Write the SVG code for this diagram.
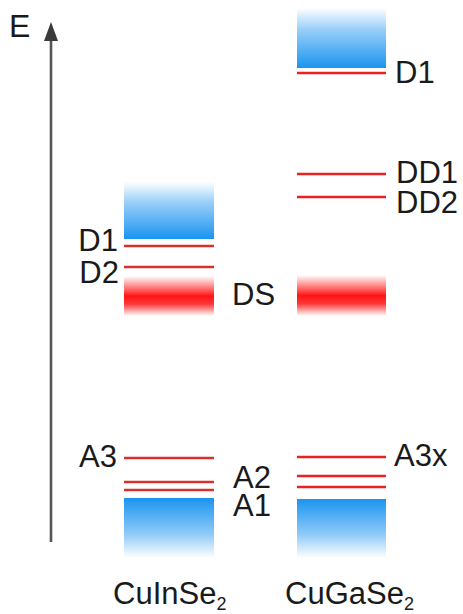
<svg xmlns="http://www.w3.org/2000/svg" width="463" height="614" viewBox="0 0 463 614">
<defs>
<linearGradient id="cbGrad" x1="0" y1="0" x2="0" y2="1">
<stop offset="0" stop-color="#1e96f0" stop-opacity="0"/>
<stop offset="0.35" stop-color="#1e96f0" stop-opacity="0.45"/>
<stop offset="1" stop-color="#1a94f0" stop-opacity="1"/>
</linearGradient>
<linearGradient id="vbGrad" x1="0" y1="0" x2="0" y2="1">
<stop offset="0" stop-color="#1a94f0" stop-opacity="1"/>
<stop offset="0.6" stop-color="#1e96f0" stop-opacity="0.5"/>
<stop offset="1" stop-color="#1e96f0" stop-opacity="0"/>
</linearGradient>
<linearGradient id="dsGrad" x1="0" y1="0" x2="0" y2="1">
<stop offset="0" stop-color="#ff1a1a" stop-opacity="0"/>
<stop offset="0.35" stop-color="#ff1a1a" stop-opacity="0.7"/>
<stop offset="0.5" stop-color="#ff1414" stop-opacity="1"/>
<stop offset="0.7" stop-color="#ff1414" stop-opacity="0.85"/>
<stop offset="1" stop-color="#ff1a1a" stop-opacity="0"/>
</linearGradient>
</defs>
<style>
text { font-family: "Liberation Sans", Arial, sans-serif; font-size: 31px; fill: #1a1a1a; }
.lvA { stroke: #d8302c; stroke-width: 2.6; }
.lvB { stroke: #e62222; stroke-width: 2.6; }
.sub { font-size: 18px; }
</style>
<rect width="463" height="614" fill="#ffffff"/>

<g id="connectors">
<line x1="51" y1="542" x2="51" y2="40" stroke="#555555" stroke-width="2.6"/>
<path d="M44,41 L51,22 L58,41 Z" fill="#3a3a3a"/>
</g>

<g id="axis-label">
<text x="9" y="37" style="font-size:32px">E</text>
</g>

<g id="CuInSe2">
<rect id="cis-cb" x="124" y="182" width="90" height="57" fill="url(#cbGrad)"/>
<line class="lvA" x1="124" y1="246" x2="214" y2="246"/>
<line class="lvA" x1="124" y1="267" x2="214" y2="267"/>
<rect id="cis-ds" x="124" y="276" width="90" height="40" fill="url(#dsGrad)"/>
<line class="lvA" x1="124" y1="458" x2="214" y2="458"/>
<line class="lvA" x1="124" y1="482" x2="214" y2="482"/>
<line class="lvA" x1="124" y1="490" x2="214" y2="490"/>
<rect id="cis-vb" x="124" y="498" width="90" height="60" fill="url(#vbGrad)"/>
<text x="118" y="251" text-anchor="end">D1</text>
<text x="119" y="283" text-anchor="end">D2</text>
<text x="117" y="467" text-anchor="end">A3</text>
<text x="113" y="604">CuInSe<tspan class="sub" dy="6">2</tspan></text>
</g>

<g id="CuGaSe2">
<rect id="cgs-cb" x="297" y="8" width="89" height="60" fill="url(#cbGrad)"/>
<line class="lvB" x1="297" y1="73" x2="386" y2="73"/>
<line class="lvB" x1="297" y1="174" x2="386" y2="174"/>
<line class="lvB" x1="297" y1="197" x2="386" y2="197"/>
<rect id="cgs-ds" x="297" y="275" width="89" height="41" fill="url(#dsGrad)"/>
<line class="lvB" x1="297" y1="457" x2="386" y2="457"/>
<line class="lvB" x1="297" y1="476" x2="386" y2="476"/>
<line class="lvB" x1="297" y1="487" x2="386" y2="487"/>
<rect id="cgs-vb" x="297" y="499" width="89" height="59" fill="url(#vbGrad)"/>
<text x="395" y="83">D1</text>
<text x="396" y="183">DD1</text>
<text x="396" y="213">DD2</text>
<text x="394" y="466">A3x</text>
<text x="285" y="604">CuGaSe<tspan class="sub" dy="6">2</tspan></text>
</g>

<g id="shared-labels">
<text x="232" y="305">DS</text>
<text x="233" y="488">A2</text>
<text x="233" y="516">A1</text>
</g>
</svg>
